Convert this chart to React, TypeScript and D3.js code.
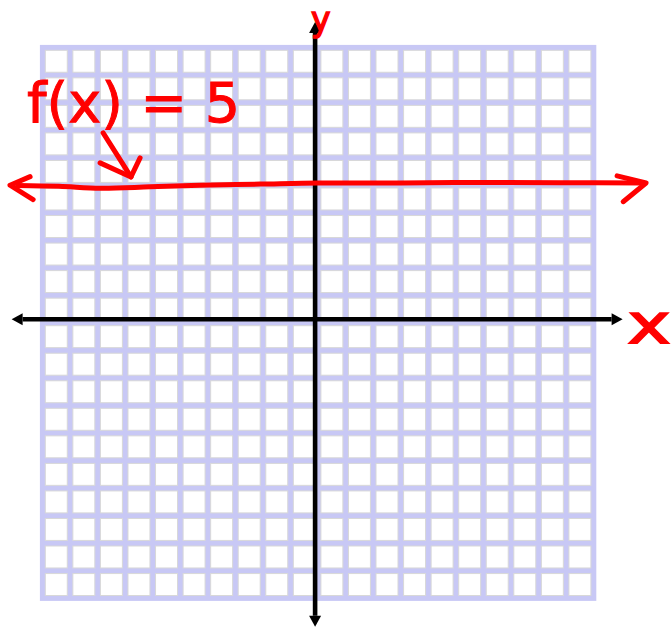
import React from "react";
import * as d3 from "d3";

// ---- data (graph units) ----
const gridUnits = d3.range(-10, 11); // grid lines from -10 to 10
const cellIndex = d3.range(-10, 10);

// hand traced constant function f(x) = 5
const traceX = [-10.9, -9.4, -7.9, -6.1, -4.3, -2.1, 0, 3.0, 5.9, 8.8, 11.8];
const traceY = [4.99, 4.96, 4.89, 4.94, 5.0, 5.04, 5.08, 5.08, 5.1, 5.09, 5.08];
const leftHeadX = [-10.45, -11.18, -10.34];
const leftHeadY = [5.31, 5.0, 4.48];
const rightHeadX = [10.85, 11.9, 11.07];
const rightHeadY = [5.34, 5.08, 4.4];

// pointer from label to the line
const pointerX = [-7.8, -6.79];
const pointerY = [6.9, 5.3];
const pointerHeadX = [-7.91, -6.79, -6.46];
const pointerHeadY = [5.81, 5.3, 5.99];

// axes extents
const xAxisExtent = [-11.12, 11.05];
const yAxisExtent = [-11.03, 10.93];

// labels
const labelTexts = ["f(x) = 5", "x", "y"];
const labelX = [-10.56, 11.21, 0.1];
const labelY = [7.29, -0.73, 10.6];

const W = 672;
const H = 630;

export default function App() {
  const sx = d3.scaleLinear().domain([-10, 10]).range([42.5, 593.7]);
  const sy = d3.scaleLinear().domain([-10, 10]).range([598.3, 47.5]);
  const step = sx(1) - sx(0);
  const stepY = sy(0) - sy(1);
  const gap = 4.6;
  const axisNudgeX = -3;
  const axisNudgeY = -3.6;
  const lavender = "#c8c8f5";
  const red = "#ff0000";
  const ax = sx(0) + axisNudgeX;
  const ay = sy(0) + axisNudgeY;
  const head = 11;
  const hw = 6;

  const line = d3
    .line<[number, number]>()
    .x((d) => sx(d[0]))
    .y((d) => sy(d[1]));
  const smooth = d3
    .line<[number, number]>()
    .x((d) => sx(d[0]))
    .y((d) => sy(d[1]))
    .curve(d3.curveCatmullRom);

  const zip = (xs: number[], ys: number[]) =>
    xs.map((x, i) => [x, ys[i]] as [number, number]);

  const x0 = sx(xAxisExtent[0]);
  const x1 = sx(xAxisExtent[1]);
  const yTop = sy(yAxisExtent[1]);
  const yBot = sy(yAxisExtent[0]);

  return (
    <svg
      width={W}
      height={H}
      style={{ position: "absolute", left: 0, top: 0, display: "block" }}
    >
      <rect x={0} y={0} width={W} height={H} fill="#ffffff" />
      {/* grid */}
      <rect
        x={sx(-10) - gap / 2 - 0.3}
        y={sy(10) - gap / 2 - 0.3}
        width={sx(10) - sx(-10) + gap + 0.6}
        height={sy(-10) - sy(10) + gap + 0.6}
        fill={lavender}
      />
      {cellIndex.map((i) =>
        cellIndex.map((j) => (
          <rect
            key={`c${i}_${j}`}
            x={sx(i) + gap / 2 + 0.5}
            y={sy(j + 1) + gap / 2 + 0.5}
            width={step - gap - 1}
            height={stepY - gap - 1}
            fill="#ffffff"
            stroke="#d8d8d8"
            strokeWidth={1}
          />
        ))
      )}
      {/* axes */}
      <line x1={x0 + head} y1={ay} x2={x1 - head} y2={ay} stroke="#000" strokeWidth={4.6} />
      <path d={`M${x1},${ay} L${x1 - head},${ay - hw} L${x1 - head},${ay + hw} Z`} fill="#000" />
      <path d={`M${x0},${ay} L${x0 + head},${ay - hw} L${x0 + head},${ay + hw} Z`} fill="#000" />
      <line x1={ax} y1={yTop + head} x2={ax} y2={yBot - head} stroke="#000" strokeWidth={4.6} />
      <path d={`M${ax},${yTop} L${ax - hw},${yTop + head} L${ax + hw},${yTop + head} Z`} fill="#000" />
      <path d={`M${ax},${yBot} L${ax - hw},${yBot - head} L${ax + hw},${yBot - head} Z`} fill="#000" />

      {/* f(x) = 5 */}
      <g fill="none" stroke={red} strokeWidth={5} strokeLinecap="round" strokeLinejoin="round">
        <path d={smooth(zip(traceX, traceY)) || ""} />
        <path d={line(zip(leftHeadX, leftHeadY)) || ""} />
        <path d={line(zip(rightHeadX, rightHeadY)) || ""} />
        <path d={line(zip(pointerX, pointerY)) || ""} />
        <path d={line(zip(pointerHeadX, pointerHeadY)) || ""} />
      </g>

      {/* labels */}
      <text
        x={sx(labelX[0])}
        y={sy(labelY[0])}
        fill={red}
        stroke={red}
        strokeWidth={1}
        fontFamily="DejaVu Sans"
        fontSize={55}
        textLength={213}
        lengthAdjust="spacingAndGlyphs"
      >
        {labelTexts[0]}
      </text>
      <text
        x={sx(labelX[1])}
        y={sy(labelY[1])}
        fill={red}
        stroke={red}
        strokeWidth={1.5}
        fontFamily="DejaVu Sans"
        fontSize={56}
        textLength={44}
        lengthAdjust="spacingAndGlyphs"
      >
        {labelTexts[1]}
      </text>
      <text
        x={sx(labelX[2])}
        y={sy(labelY[2])}
        fill={red}
        stroke={red}
        strokeWidth={1.5}
        fontFamily="DejaVu Sans"
        fontSize={33}
        textAnchor="middle"
      >
        {labelTexts[2]}
      </text>
    </svg>
  );
}
